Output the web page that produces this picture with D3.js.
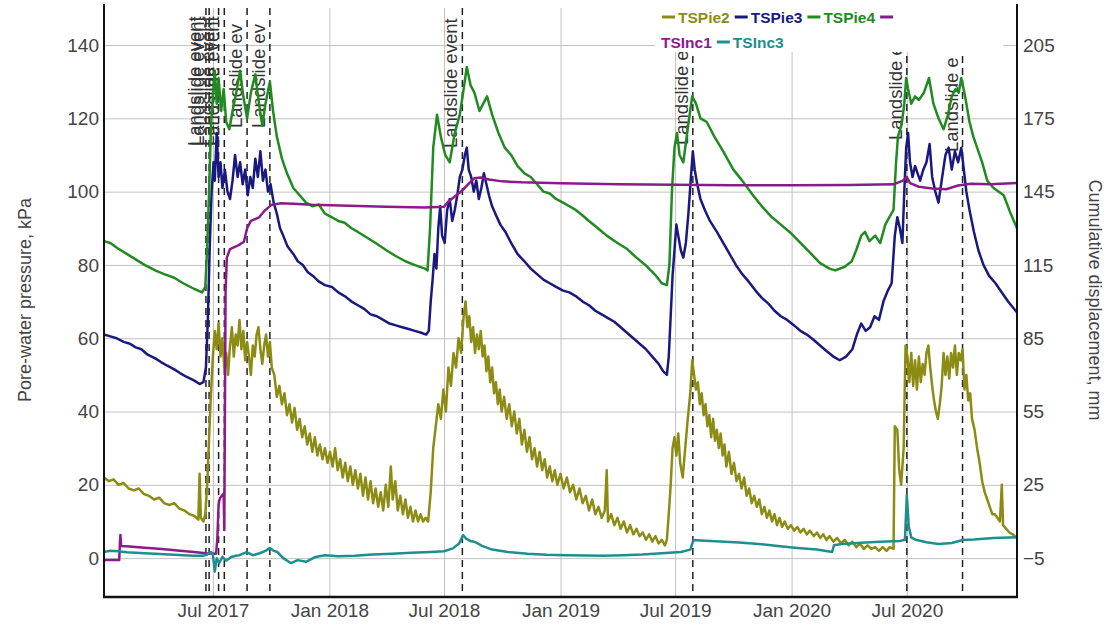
<!DOCTYPE html>
<html>
<head>
<meta charset="utf-8">
<script src="https://d3js.org/d3.v7.min.js"></script>
<style>
body { margin: 0; background: #fff; }
svg { display: block; font-family: "Liberation Sans", Arial, sans-serif; }
</style>
</head>
<body>
<svg id="chart" width="1113" height="625"></svg>
<script>
// pore-water pressure, kPa (left axis)
var tsPie2 = [
["2017-01-10",22],["2017-01-18",21],["2017-01-25",21.5],["2017-02-02",20],["2017-02-10",20.5],["2017-02-18",19],["2017-02-26",18.5],
["2017-03-06",19],["2017-03-14",17.5],["2017-03-22",17],["2017-03-30",16],["2017-04-07",16.5],["2017-04-15",15],["2017-04-23",14.5],
["2017-05-01",15],["2017-05-09",13.5],["2017-05-17",13],["2017-05-25",12],["2017-06-02",11.5],["2017-06-08",10.5],["2017-06-10",23],
["2017-06-12",11],["2017-06-16",10],["2017-06-19",12],["2017-06-22",20],["2017-06-25",33],["2017-06-28",45],["2017-07-01",55],
["2017-07-04",62],["2017-07-07",57],["2017-07-10",64],["2017-07-13",55],["2017-07-16",60],["2017-07-19",52],["2017-07-22",56],
["2017-07-25",50],["2017-07-28",58],["2017-07-31",63],["2017-08-03",55],["2017-08-06",61],["2017-08-09",58],["2017-08-12",65],
["2017-08-15",57],["2017-08-18",62],["2017-08-21",54],["2017-08-24",59],["2017-08-27",55],["2017-08-30",50],["2017-09-02",58],
["2017-09-05",55],["2017-09-08",61],["2017-09-11",63],["2017-09-14",57],["2017-09-17",53],["2017-09-20",58],["2017-09-23",61],
["2017-09-26",55],["2017-09-29",59],["2017-10-02",52],["2017-10-06",50],["2017-10-10",44],["2017-10-14",47],["2017-10-18",42],
["2017-10-22",45],["2017-10-26",39],["2017-10-30",42],["2017-11-03",37],["2017-11-07",41],["2017-11-11",35],["2017-11-15",38],
["2017-11-19",33],["2017-11-23",36],["2017-11-27",31],["2017-12-01",34],["2017-12-05",29],["2017-12-09",33],["2017-12-13",28],
["2017-12-17",31],["2017-12-21",27],["2017-12-25",30],["2017-12-29",26],["2018-01-02",29],["2018-01-06",25],["2018-01-10",30],
["2018-01-14",24],["2018-01-18",27],["2018-01-22",22],["2018-01-26",26],["2018-01-30",21],["2018-02-03",25],["2018-02-07",20],
["2018-02-11",24],["2018-02-15",19],["2018-02-19",23],["2018-02-23",17],["2018-02-27",22],["2018-03-03",16],["2018-03-07",21],
["2018-03-11",15],["2018-03-15",19],["2018-03-19",14],["2018-03-23",18],["2018-03-27",13],["2018-03-31",20],["2018-04-04",14],
["2018-04-08",25],["2018-04-11",16],["2018-04-15",21],["2018-04-19",13],["2018-04-23",17],["2018-04-27",12],["2018-05-01",16],
["2018-05-05",11],["2018-05-09",14],["2018-05-13",10],["2018-05-17",13],["2018-05-21",10],["2018-05-25",12],["2018-05-29",10],
["2018-06-02",11],["2018-06-06",10],["2018-06-10",18],["2018-06-14",30],["2018-06-18",36],["2018-06-22",42],["2018-06-26",38],
["2018-06-30",46],["2018-07-04",40],["2018-07-08",52],["2018-07-12",47],["2018-07-16",56],["2018-07-20",52],["2018-07-24",60],
["2018-07-28",56],["2018-08-01",66],["2018-08-04",70],["2018-08-07",63],["2018-08-10",66],["2018-08-13",59],["2018-08-16",63],
["2018-08-19",56],["2018-08-22",61],["2018-08-25",57],["2018-08-28",62],["2018-08-31",55],["2018-09-03",58],["2018-09-06",51],
["2018-09-09",55],["2018-09-12",48],["2018-09-15",52],["2018-09-18",45],["2018-09-21",48],["2018-09-24",42],["2018-09-27",46],
["2018-09-30",40],["2018-10-04",44],["2018-10-08",38],["2018-10-12",42],["2018-10-16",36],["2018-10-20",40],["2018-10-24",34],
["2018-10-28",38],["2018-11-01",31],["2018-11-05",35],["2018-11-09",29],["2018-11-13",33],["2018-11-17",27],["2018-11-21",30],
["2018-11-25",25],["2018-11-29",29],["2018-12-03",24],["2018-12-07",27],["2018-12-11",22],["2018-12-15",25],["2018-12-19",21],
["2018-12-23",24],["2018-12-27",20],["2019-01-01",23],["2019-01-06",19],["2019-01-11",22],["2019-01-16",18],["2019-01-21",20],
["2019-01-26",16],["2019-01-31",19],["2019-02-05",15],["2019-02-10",17],["2019-02-15",13],["2019-02-20",16],["2019-02-25",12],
["2019-03-02",14],["2019-03-07",11],["2019-03-12",13],["2019-03-15",24],["2019-03-17",10],["2019-03-22",12],["2019-03-27",9],
["2019-04-01",11],["2019-04-06",8],["2019-04-11",10],["2019-04-16",7],["2019-04-21",9],["2019-04-26",6.5],["2019-05-01",8],
["2019-05-06",6],["2019-05-11",7],["2019-05-16",5],["2019-05-21",6.5],["2019-05-26",4.5],["2019-05-31",6],["2019-06-05",4],
["2019-06-10",5],["2019-06-15",3.5],["2019-06-18",5],["2019-06-21",12],["2019-06-24",20],["2019-06-27",30],["2019-06-30",33],
["2019-07-03",28],["2019-07-06",34],["2019-07-09",26],["2019-07-13",22],["2019-07-17",30],["2019-07-21",38],["2019-07-25",45],
["2019-07-28",54],["2019-07-31",50],["2019-08-03",46],["2019-08-06",48],["2019-08-09",42],["2019-08-12",45],["2019-08-15",39],
["2019-08-18",42],["2019-08-21",36],["2019-08-24",39],["2019-08-27",33],["2019-08-30",38],["2019-09-02",32],["2019-09-05",35],
["2019-09-08",30],["2019-09-11",34],["2019-09-14",28],["2019-09-17",31],["2019-09-20",25],["2019-09-24",29],["2019-09-28",23],
["2019-10-02",26],["2019-10-06",21],["2019-10-10",23],["2019-10-14",19],["2019-10-18",22],["2019-10-22",17],["2019-10-26",19],
["2019-10-30",15],["2019-11-03",17],["2019-11-07",14],["2019-11-11",16],["2019-11-15",12],["2019-11-19",14],["2019-11-23",11],
["2019-11-27",13],["2019-12-01",10],["2019-12-05",12],["2019-12-09",9],["2019-12-13",11],["2019-12-17",8.5],["2019-12-21",10],
["2019-12-26",8],["2019-12-31",9],["2020-01-05",7.5],["2020-01-10",8.5],["2020-01-15",7],["2020-01-20",8],["2020-01-25",6.5],
["2020-01-30",7.5],["2020-02-05",6],["2020-02-10",7],["2020-02-15",5.5],["2020-02-20",6.5],["2020-02-25",5],["2020-03-01",6],
["2020-03-07",4.5],["2020-03-13",5.5],["2020-03-19",4],["2020-03-25",5],["2020-03-31",3.5],["2020-04-06",4.5],["2020-04-12",3],
["2020-04-18",4],["2020-04-24",2.5],["2020-04-30",3.5],["2020-05-06",2.5],["2020-05-12",3],["2020-05-18",2],["2020-05-24",3],
["2020-05-30",2],["2020-06-04",3],["2020-06-10",2.5],["2020-06-12",36],["2020-06-16",35],["2020-06-19",24],["2020-06-22",20],
["2020-06-26",30],["2020-06-29",58],["2020-07-02",55],["2020-07-05",48],["2020-07-08",56],["2020-07-11",47],["2020-07-14",54],
["2020-07-17",46],["2020-07-20",55],["2020-07-23",48],["2020-07-26",53],["2020-07-29",50],["2020-08-01",56],["2020-08-04",58],
["2020-08-07",52],["2020-08-10",47],["2020-08-13",43],["2020-08-16",40],["2020-08-19",38],["2020-08-22",42],["2020-08-25",47],
["2020-08-28",56],["2020-08-31",50],["2020-09-03",55],["2020-09-06",49],["2020-09-09",56],["2020-09-12",52],["2020-09-15",58],
["2020-09-18",50],["2020-09-21",56],["2020-09-24",54],["2020-09-27",57],["2020-09-30",46],["2020-10-03",50],["2020-10-06",43],
["2020-10-09",45],["2020-10-12",38],["2020-10-16",35],["2020-10-20",30],["2020-10-24",26],["2020-10-28",21],["2020-11-01",18],
["2020-11-05",16],["2020-11-09",14],["2020-11-13",12],["2020-11-17",12],["2020-11-21",11],["2020-11-25",10],["2020-11-28",20],
["2020-11-30",9],["2020-12-05",8],["2020-12-10",7],["2020-12-15",6.5],["2020-12-22",5.5]
];

var tsPie3 = [
["2017-01-10",61],["2017-01-20",60.5],["2017-01-30",60],["2017-02-10",59],["2017-02-20",58.5],["2017-03-01",57.5],["2017-03-10",57],
["2017-03-20",55.5],["2017-04-01",54.5],["2017-04-10",53.5],["2017-04-20",52.5],["2017-05-01",51.5],["2017-05-10",50.5],
["2017-05-20",49.5],["2017-06-01",48.5],["2017-06-10",47.5],["2017-06-16",48],["2017-06-20",52],["2017-06-23",65],["2017-06-26",85],
["2017-06-29",100],["2017-07-02",108],["2017-07-04",103],["2017-07-07",116],["2017-07-10",104],["2017-07-13",108],["2017-07-16",101],
["2017-07-20",106],["2017-07-24",100],["2017-07-28",98],["2017-08-01",103],["2017-08-05",110],["2017-08-09",104],["2017-08-13",108],
["2017-08-17",102],["2017-08-21",106],["2017-08-25",99],["2017-08-29",104],["2017-09-02",101],["2017-09-06",109],["2017-09-10",104],
["2017-09-14",111],["2017-09-18",103],["2017-09-22",106],["2017-09-26",100],["2017-09-30",102],["2017-10-05",97],["2017-10-10",94],
["2017-10-15",90],["2017-10-20",88],["2017-10-27",85],["2017-11-05",83],["2017-11-12",81],["2017-11-20",80],["2017-11-28",78],
["2017-12-06",77],["2017-12-15",75.5],["2017-12-25",74.5],["2018-01-05",74],["2018-01-15",72.5],["2018-01-25",71.5],["2018-02-05",70],
["2018-02-15",69],["2018-02-25",68],["2018-03-07",66.5],["2018-03-17",66],["2018-03-27",65],["2018-04-06",64],["2018-04-16",63.5],
["2018-04-26",63],["2018-05-06",62.5],["2018-05-16",62],["2018-05-26",61.5],["2018-06-03",61],["2018-06-07",62],["2018-06-10",70],
["2018-06-13",76],["2018-06-16",83],["2018-06-19",79],["2018-06-22",90],["2018-06-25",96],["2018-06-28",88],["2018-07-02",86],
["2018-07-06",95],["2018-07-10",98],["2018-07-14",92],["2018-07-18",95],["2018-07-22",99],["2018-07-26",104],["2018-07-30",106],
["2018-08-03",110],["2018-08-06",112],["2018-08-09",106],["2018-08-13",104],["2018-08-17",100],["2018-08-21",103],["2018-08-25",98],
["2018-08-29",101],["2018-09-02",105],["2018-09-06",102],["2018-09-10",99],["2018-09-15",96],["2018-09-20",94],["2018-09-28",91],
["2018-10-06",89],["2018-10-15",86],["2018-10-25",83],["2018-11-05",81],["2018-11-15",79],["2018-11-25",77.5],["2018-12-05",76],
["2018-12-15",75],["2018-12-25",74],["2019-01-05",73],["2019-01-15",72.5],["2019-01-25",71.5],["2019-02-05",70],["2019-02-15",69],
["2019-02-25",67.5],["2019-03-07",66.5],["2019-03-17",65.5],["2019-03-27",64.5],["2019-04-06",63],["2019-04-16",61.5],
["2019-04-26",60],["2019-05-06",58.5],["2019-05-16",57],["2019-05-26",55],["2019-06-05",53],["2019-06-12",51],["2019-06-18",50],
["2019-06-21",55],["2019-06-24",66],["2019-06-27",77],["2019-06-30",84],["2019-07-03",91],["2019-07-06",88],["2019-07-10",84],
["2019-07-14",82],["2019-07-18",86],["2019-07-22",94],["2019-07-26",104],["2019-07-29",111],["2019-08-01",106],["2019-08-05",102],
["2019-08-10",98],["2019-08-17",95],["2019-08-25",92],["2019-09-05",89],["2019-09-15",86],["2019-09-25",83],["2019-10-05",80],
["2019-10-15",77.5],["2019-10-25",75.5],["2019-11-05",73],["2019-11-15",71],["2019-11-25",69.5],["2019-12-05",67.5],
["2019-12-15",66],["2019-12-25",65],["2020-01-05",63.5],["2020-01-15",62],["2020-01-25",61],["2020-02-05",59.5],["2020-02-15",58],
["2020-02-25",56.5],["2020-03-07",55],["2020-03-17",54],["2020-03-27",55],["2020-04-06",57],["2020-04-13",61],["2020-04-20",64],
["2020-04-27",62],["2020-05-04",63],["2020-05-11",66],["2020-05-18",65],["2020-05-25",70],["2020-06-01",73],["2020-06-07",75],
["2020-06-12",88],["2020-06-16",93],["2020-06-20",90],["2020-06-24",86],["2020-06-27",100],["2020-06-30",112],["2020-07-03",116],
["2020-07-06",108],["2020-07-10",104],["2020-07-14",107],["2020-07-18",105],["2020-07-22",103],["2020-07-27",106],["2020-08-01",108],
["2020-08-06",113],["2020-08-10",104],["2020-08-15",100],["2020-08-20",97],["2020-08-25",103],["2020-08-31",110],["2020-09-05",112],
["2020-09-10",106],["2020-09-15",111],["2020-09-20",108],["2020-09-25",112],["2020-09-29",106],["2020-10-03",100],["2020-10-08",95],
["2020-10-15",89],["2020-10-22",84],["2020-10-30",80],["2020-11-08",77],["2020-11-18",75],["2020-11-28",72.5],["2020-12-08",70],
["2020-12-22",67]
];

var tsPie4 = [
["2017-01-10",86.5],["2017-01-20",86],["2017-02-01",84.5],["2017-02-15",83],["2017-03-01",81.5],["2017-03-15",80],["2017-04-01",78.5],
["2017-04-15",77.5],["2017-05-01",76.5],["2017-05-15",75],["2017-06-01",73.5],["2017-06-14",72.5],["2017-06-19",74],["2017-06-22",85],
["2017-06-25",100],["2017-06-28",118],["2017-07-01",126],["2017-07-04",133],["2017-07-07",124],["2017-07-10",131],["2017-07-14",122],
["2017-07-18",128],["2017-07-22",119],["2017-07-27",117],["2017-08-01",122],["2017-08-08",128],["2017-08-13",133],["2017-08-18",126],
["2017-08-24",120],["2017-08-30",127],["2017-09-06",132],["2017-09-11",125],["2017-09-17",118],["2017-09-22",124],["2017-09-29",130],
["2017-10-04",122],["2017-10-10",115],["2017-10-18",109],["2017-10-26",105],["2017-11-05",101],["2017-11-15",99],["2017-11-25",97],
["2017-12-05",96],["2017-12-15",96.5],["2017-12-25",94],["2018-01-05",93],["2018-01-15",92],["2018-01-25",91.5],["2018-02-05",90],
["2018-02-15",89],["2018-03-01",87.5],["2018-03-15",86],["2018-04-01",84],["2018-04-15",82.5],["2018-05-01",81],["2018-05-15",80],
["2018-06-01",79],["2018-06-05",78.5],["2018-06-09",90],["2018-06-14",112],["2018-06-20",121],["2018-06-26",115],["2018-07-03",110],
["2018-07-10",108],["2018-07-18",116],["2018-07-26",121],["2018-08-01",128],["2018-08-06",134],["2018-08-12",129],["2018-08-18",127],
["2018-08-26",122],["2018-09-01",124],["2018-09-07",126],["2018-09-15",121],["2018-09-25",116],["2018-10-05",112],["2018-10-15",110],
["2018-10-25",107],["2018-11-05",105],["2018-11-15",104],["2018-11-25",102],["2018-12-05",100],["2018-12-15",99.5],["2018-12-25",98],
["2019-01-05",97],["2019-01-15",96],["2019-01-25",95],["2019-02-05",93.5],["2019-02-15",92],["2019-03-01",90],["2019-03-15",88],
["2019-04-01",86],["2019-04-15",84.5],["2019-05-01",82],["2019-05-15",80],["2019-06-01",77],["2019-06-10",75],["2019-06-18",74.5],
["2019-06-22",80],["2019-06-26",100],["2019-06-30",112],["2019-07-04",116],["2019-07-08",110],["2019-07-14",108],["2019-07-20",116],
["2019-07-28",126],["2019-08-03",124],["2019-08-10",120],["2019-08-20",119],["2019-09-01",115],["2019-09-15",111],["2019-10-01",106],
["2019-10-15",103],["2019-11-01",99],["2019-11-15",96],["2019-12-01",93],["2019-12-15",91],["2020-01-01",88.5],["2020-01-15",86],
["2020-02-01",83],["2020-02-15",80.5],["2020-03-01",79],["2020-03-10",78.5],["2020-03-25",79.5],["2020-04-05",81],["2020-04-12",84],
["2020-04-20",88],["2020-04-26",89],["2020-05-03",86.5],["2020-05-12",88],["2020-05-20",86],["2020-05-28",91],["2020-06-05",93.5],
["2020-06-10",95],["2020-06-14",108],["2020-06-17",115],["2020-06-23",118.5],["2020-06-27",124],["2020-06-30",131],["2020-07-03",128],
["2020-07-08",124],["2020-07-14",126],["2020-07-20",125],["2020-07-28",127],["2020-08-05",131],["2020-08-12",124],["2020-08-20",120],
["2020-08-28",117],["2020-09-04",121],["2020-09-10",126],["2020-09-16",128],["2020-09-21",127],["2020-09-25",131],["2020-10-01",126],
["2020-10-08",119],["2020-10-14",115],["2020-10-20",112],["2020-10-28",108],["2020-11-05",103],["2020-11-15",101],["2020-12-01",99],
["2020-12-12",94],["2020-12-22",90]
];

// cumulative displacement, mm (right axis)
var tsInc1 = [
["2017-01-10",-5.8],["2017-02-03",-5.8],["2017-02-04",0.5],["2017-02-05",4.5],["2017-02-06",0],["2017-02-20",-0.2],["2017-03-10",-0.6],
["2017-04-01",-1.1],["2017-04-20",-1.5],["2017-05-10",-2],["2017-06-01",-2.5],["2017-06-20",-3],["2017-07-06",-3.2],["2017-07-08",3],
["2017-07-10",17],["2017-07-12",19.5],["2017-07-15",20.5],["2017-07-18",21.5],["2017-07-19",6.5],["2017-07-21",104],["2017-07-23",118],
["2017-07-28",121.5],["2017-08-10",123],["2017-08-19",124.5],["2017-08-24",130],["2017-08-30",133],["2017-09-12",134.5],
["2017-09-20",137],["2017-10-01",139.5],["2017-10-15",140.2],["2017-11-05",140],["2017-12-05",139.6],["2018-02-01",139.2],
["2018-04-01",138.8],["2018-06-01",138.5],["2018-07-01",138.8],["2018-07-08",141],["2018-07-18",143],["2018-07-30",145.5],
["2018-08-08",148],["2018-08-18",150.5],["2018-08-28",150.8],["2018-09-10",150],["2018-10-01",149.2],["2018-11-01",148.8],
["2019-01-01",148.4],["2019-04-01",148],["2019-07-01",147.8],["2019-10-01",147.6],["2020-01-01",147.6],["2020-04-01",147.7],
["2020-06-10",148],["2020-06-25",149.5],["2020-07-01",151],["2020-07-06",148.5],["2020-07-20",147],["2020-08-10",146.3],
["2020-09-01",146],["2020-09-20",147.5],["2020-10-10",148.2],["2020-11-10",148],["2020-12-22",148.5]
];

var tsInc3 = [
["2017-01-10",-2.5],["2017-01-20",-2],["2017-02-01",-2.2],["2017-02-15",-2.6],["2017-03-01",-2.8],["2017-03-15",-3],["2017-04-01",-3.2],
["2017-04-15",-3.4],["2017-05-01",-3.6],["2017-05-15",-3.8],["2017-06-01",-4],["2017-06-15",-4],["2017-06-22",-3.5],["2017-06-28",-2.5],
["2017-07-01",-3.5],["2017-07-04",-10.5],["2017-07-07",-5],["2017-07-11",-7],["2017-07-16",-4.5],["2017-07-22",-6],["2017-07-30",-4.5],
["2017-08-06",-4],["2017-08-12",-3.8],["2017-08-23",-2.5],["2017-09-02",-3.8],["2017-09-13",-3],["2017-09-22",-2],["2017-09-29",-0.9],
["2017-10-05",-2],["2017-10-11",-2.5],["2017-10-20",-5],["2017-11-01",-7],["2017-11-12",-5.8],["2017-11-25",-6.5],["2017-12-10",-4.5],
["2017-12-25",-3.8],["2018-01-15",-4.2],["2018-02-10",-4],["2018-03-10",-3.5],["2018-04-10",-3.2],["2018-05-10",-2.8],
["2018-06-10",-2.5],["2018-07-01",-2.2],["2018-07-15",-1],["2018-07-25",1],["2018-07-31",4.4],["2018-08-05",3],["2018-08-12",2],
["2018-08-20",1.5],["2018-08-30",0],["2018-09-15",-1.5],["2018-10-10",-2.5],["2018-11-10",-3.2],["2018-12-10",-3.6],
["2019-01-10",-3.8],["2019-02-10",-3.9],["2019-03-10",-4],["2019-04-10",-3.8],["2019-05-10",-3.5],["2019-06-10",-3],
["2019-07-10",-2.5],["2019-07-25",-1.5],["2019-07-30",2.4],["2019-08-10",2.2],["2019-09-10",1.8],["2019-10-10",1.4],
["2019-11-10",0.8],["2019-12-10",0],["2020-01-10",-0.8],["2020-02-10",-1.5],["2020-03-05",-2.5],["2020-03-08",0.3],
["2020-03-20",0.8],["2020-04-20",1.3],["2020-05-20",1.7],["2020-06-20",2],["2020-06-28",2.5],["2020-07-01",20.8],["2020-07-04",8],
["2020-07-08",3.5],["2020-07-15",2.5],["2020-08-01",1.5],["2020-08-20",0.8],["2020-09-10",1.2],["2020-09-27",2.4],["2020-10-15",2.6],
["2020-11-15",3.2],["2020-12-22",3.6]
];

var eventDates = ["2017-06-20","2017-06-25","2017-07-10","2017-07-19","2017-08-24","2017-09-29","2018-07-30","2019-07-29","2020-07-01","2020-09-27"];
var eventText = ["Landslide event","Landslide event","Landslide event","Landslide event","Landslide ev","Landslide ev",
                 "Landslide event","Landslide e","Landslide e","Landslide e"];

var pressureTicks = [0, 20, 40, 60, 80, 100, 120, 140];
var dispTicks = [-5, 25, 55, 85, 115, 145, 175, 205];

var seriesNames = ["TSPie2", "TSPie3", "TSPie4", "TSInc1", "TSInc3"];
var seriesData = [tsPie2, tsPie3, tsPie4, tsInc1, tsInc3];
var seriesAxis = ["left", "left", "left", "right", "right"];

var colors = ["#8c8c14", "#191980", "#218a21", "#8b1a8b", "#1f8e8e"];

var parse = d3.utcParse("%Y-%m-%d");

var L = 104, R = 1017, T = 8, B = 597;

var svg = d3.select("#chart");

var x = d3.scaleUtc()
    .domain([parse("2017-01-10"), parse("2020-12-22")])
    .range([L, R]);

var yL = d3.scaleLinear().domain([-10.6, 150.1]).range([B, T]);
var yR = d3.scaleLinear().domain([-20.9, 220.15]).range([B, T]);

// gridlines + tick labels
var gy = svg.append("g")
    .attr("transform", "translate(" + L + ",0)")
    .call(d3.axisLeft(yL).tickValues(pressureTicks).tickSize(-(R - L)).tickPadding(5));

var gx = svg.append("g")
    .attr("transform", "translate(0," + B + ")")
    .call(d3.axisBottom(x).ticks(d3.utcMonth.every(6)).tickFormat(d3.utcFormat("%b %Y"))
        .tickSize(-(B - T)).tickPadding(7));

var gr = svg.append("g")
    .attr("transform", "translate(" + R + ",0)")
    .call(d3.axisRight(yR).tickValues(dispTicks).tickSize(0).tickPadding(6));

[gy, gx, gr].forEach(function (g) {
    g.select(".domain").remove();
    g.selectAll(".tick line").attr("stroke", "#c2c2c2").attr("stroke-width", 1);
    g.selectAll(".tick text")
        .attr("fill", "#444")
        .style("font-size", "19px")
        .style("font-family", "'Liberation Sans', Arial, sans-serif");
});

// landslide events
var evG = svg.append("g");
eventDates.forEach(function (d, i) {
    var ex = x(parse(d));
    evG.append("line")
        .attr("x1", ex).attr("x2", ex)
        .attr("y1", T).attr("y2", B)
        .attr("stroke", "#222")
        .attr("stroke-width", 1.5)
        .attr("stroke-dasharray", "7,5");
});

var labelBottom = [146, 146, 146, 146, 128, 128, 148, 145, 140, 152];
eventDates.forEach(function (d, i) {
    var ex = x(parse(d)) - 5;
    evG.append("text")
        .attr("transform", "translate(" + ex + "," + labelBottom[i] + ") rotate(-90)")
        .attr("fill", "#333")
        .style("font-size", "18.5px")
        .text(eventText[i]);
});

// series
var lineL = d3.line()
    .x(function (d) { return x(parse(d[0])); })
    .y(function (d) { return yL(d[1]); });
var lineR = d3.line()
    .x(function (d) { return x(parse(d[0])); })
    .y(function (d) { return yR(d[1]); });

seriesData.forEach(function (s, i) {
    svg.append("path")
        .datum(s)
        .attr("fill", "none")
        .attr("stroke", colors[i])
        .attr("stroke-width", 2.5)
        .attr("stroke-linejoin", "round")
        .attr("d", seriesAxis[i] == "left" ? lineL : lineR);
});

// frame
svg.append("line").attr("x1", L).attr("x2", L).attr("y1", 4).attr("y2", B + 1)
    .attr("stroke", "#111").attr("stroke-width", 2);
svg.append("line").attr("x1", R).attr("x2", R).attr("y1", 4).attr("y2", B + 1)
    .attr("stroke", "#111").attr("stroke-width", 2);
svg.append("line").attr("x1", L - 1).attr("x2", R + 1).attr("y1", B).attr("y2", B)
    .attr("stroke", "#111").attr("stroke-width", 2.5);

// legend (wraps like plotly: line and label flow separately)
svg.append("rect").attr("x", 655).attr("y", 0).attr("width", 348).attr("height", 52).attr("fill", "#fff");
var lg = svg.append("g").style("font-size", "15.5px").style("font-weight", "bold");
var lx = 662, row = 0, maxX = 900, rowH = 25;
seriesNames.forEach(function (name, i) {
    if (lx + 13 > maxX) { lx = 661; row++; }
    lg.append("line")
        .attr("x1", lx).attr("x2", lx + 13)
        .attr("y1", 17 + row * rowH).attr("y2", 17 + row * rowH)
        .attr("stroke", colors[i]).attr("stroke-width", 3);
    lx += 16;
    var t = lg.append("text").attr("fill", colors[i]).text(name);
    var w = t.node().getComputedTextLength();
    if (lx + w > maxX) { lx = 661; row++; }
    t.attr("x", lx).attr("y", 22.5 + row * rowH);
    lx += w + 5;
});

// axis titles
svg.append("text")
    .attr("transform", "translate(31,300) rotate(-90)")
    .attr("text-anchor", "middle")
    .attr("fill", "#444")
    .style("font-size", "18px")
    .text("Pore-water pressure, kPa");

svg.append("text")
    .attr("transform", "translate(1089,300) rotate(90)")
    .attr("text-anchor", "middle")
    .attr("fill", "#444")
    .style("font-size", "18px")
    .text("Cumulative displacement, mm");
</script>
</body>
</html>
